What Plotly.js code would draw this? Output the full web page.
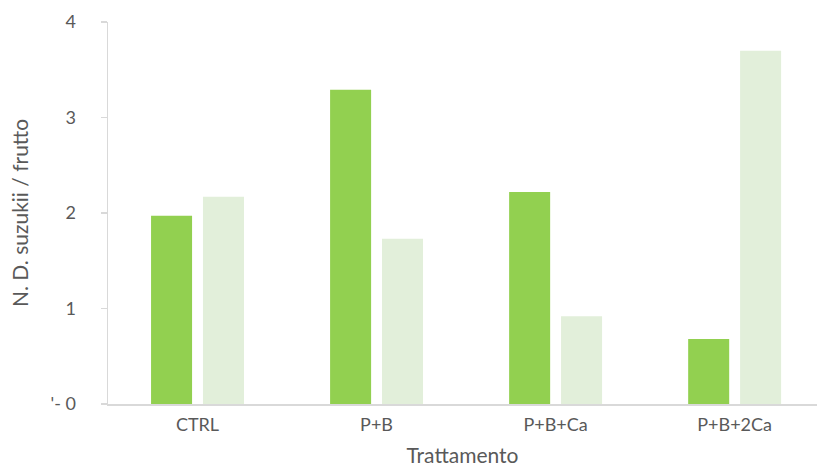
<!DOCTYPE html>
<html>
<head>
<meta charset="utf-8">
<script src="https://cdn.plot.ly/plotly-3.0.1.min.js"></script>
<style>
  html, body { margin: 0; padding: 0; background: #ffffff; }
  #chart { width: 817px; height: 467px; }
</style>
</head>
<body>
<div id="chart"></div>
<script>
// Treatments on the x axis
const categories = ["CTRL", "P+B", "P+B+Ca", "P+B+2Ca"];

// Mean number of D. suzukii per fruit, two series per treatment
const seriesA = [1.97, 3.29, 2.22, 0.68];
const seriesB = [2.17, 1.73, 0.92, 3.70];

// Y axis ticks and their labels
const yTickVals = [0, 1, 2, 3, 4];
const yTickText = ["'- 0", "1", "2", "3", "4"];

const fontFamily = "Lato, 'Open Sans', sans-serif";
const textGrey = "#595959";
const axisGrey = "#D9D9D9";

const traces = [
  {
    type: "bar",
    x: categories,
    y: seriesA,
    marker: { color: "#92D050" },
    hoverinfo: "x+y"
  },
  {
    type: "bar",
    x: categories,
    y: seriesB,
    marker: { color: "#E2EFDA" },
    hoverinfo: "x+y"
  }
];

const layout = {
  width: 817,
  height: 467,
  margin: { l: 108, r: 0, t: 22, b: 63 },
  paper_bgcolor: "#ffffff",
  plot_bgcolor: "#ffffff",
  showlegend: false,
  barmode: "group",
  bargap: 0.42,
  bargroupgap: 0.21,
  font: { family: fontFamily, color: textGrey },
  xaxis: {
    type: "category",
    range: [-0.5, 3.46],
    showgrid: false,
    zeroline: false,
    showline: true,
    linecolor: axisGrey,
    linewidth: 1.5,
    ticks: "",
    ticklabelstandoff: 4,
    tickfont: { size: 18, color: textGrey, family: fontFamily },
    title: {
      text: "Trattamento",
      font: { size: 21, color: textGrey, family: fontFamily },
      standoff: 16
    }
  },
  yaxis: {
    range: [0, 4],
    tickvals: yTickVals,
    ticktext: yTickText,
    showgrid: false,
    zeroline: false,
    showline: true,
    linecolor: axisGrey,
    linewidth: 1.5,
    ticks: "outside",
    ticklen: 6,
    tickcolor: axisGrey,
    tickwidth: 1.5,
    ticklabelstandoff: 21,
    tickfont: { size: 18, color: textGrey, family: fontFamily },
    title: {
      text: "N. D. suzukii / frutto",
      font: { size: 21, color: textGrey, family: fontFamily },
      standoff: 16
    }
  }
};

Plotly.newPlot("chart", traces, layout, { displayModeBar: false, staticPlot: true });
</script>
</body>
</html>
